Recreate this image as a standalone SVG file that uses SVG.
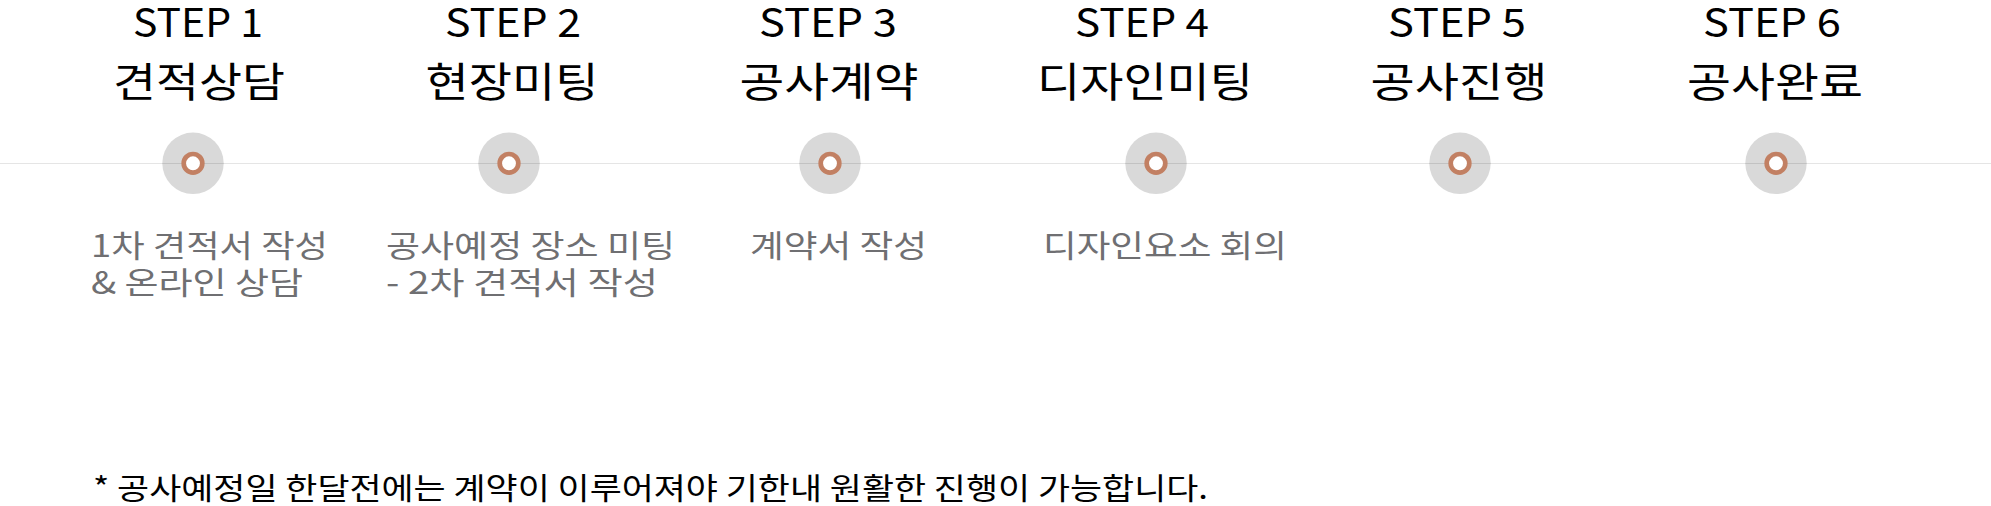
<svg xmlns="http://www.w3.org/2000/svg" width="1991" height="506" viewBox="0 0 1991 506">
<style>
.t{font-family:"Noto Sans CJK KR","Noto Sans",sans-serif;fill:#000;font-size:39px;text-anchor:middle}
.k{font-family:"Noto Sans CJK KR","Noto Sans",sans-serif;fill:#000;font-size:41px;text-anchor:middle}
.d{font-family:"Noto Sans CJK KR","Noto Sans",sans-serif;fill:#6f6f72;font-size:31px}
.f{font-family:"Noto Sans CJK KR","Noto Sans",sans-serif;fill:#000;font-size:30px}
.disk{fill:#d9d9d9}
.ring{fill:#fff;stroke:#c28063;stroke-width:4.7}
</style>
<rect width="1991" height="506" fill="#fff"/>
<g id="disks">
<circle class="disk" cx="193" cy="163.3" r="30.7"/>
<circle class="disk" cx="509" cy="163.3" r="30.7"/>
<circle class="disk" cx="830" cy="163.3" r="30.7"/>
<circle class="disk" cx="1156" cy="163.3" r="30.7"/>
<circle class="disk" cx="1460" cy="163.3" r="30.7"/>
<circle class="disk" cx="1776" cy="163.3" r="30.7"/>
</g>
<g id="connectors">
<line x1="0" y1="163.5" x2="1991" y2="163.5" stroke="#000" stroke-opacity="0.1" stroke-width="1"/>
</g>
<g id="step1">
<text class="t" x="198" y="37" textLength="130" lengthAdjust="spacingAndGlyphs">STEP 1</text>
<text class="k" x="199" y="97" textLength="172" lengthAdjust="spacingAndGlyphs">견적상담</text>
<circle class="ring" cx="193" cy="163.3" r="9.3"/>
<text class="d" x="91" y="257" textLength="237" lengthAdjust="spacingAndGlyphs">1차 견적서 작성</text>
<text class="d" x="91" y="294" textLength="212" lengthAdjust="spacingAndGlyphs">&amp; 온라인 상담</text>
</g>
<g id="step2">
<text class="t" x="513" y="37" textLength="136" lengthAdjust="spacingAndGlyphs">STEP 2</text>
<text class="k" x="512" y="97" textLength="173" lengthAdjust="spacingAndGlyphs">현장미팅</text>
<circle class="ring" cx="509" cy="163.3" r="9.3"/>
<text class="d" x="386" y="257" textLength="289" lengthAdjust="spacingAndGlyphs">공사예정 장소 미팅</text>
<text class="d" x="386" y="294" textLength="272" lengthAdjust="spacingAndGlyphs">- 2차 견적서 작성</text>
</g>
<g id="step3">
<text class="t" x="828" y="37" textLength="138" lengthAdjust="spacingAndGlyphs">STEP 3</text>
<text class="k" x="829" y="97" textLength="179" lengthAdjust="spacingAndGlyphs">공사계약</text>
<circle class="ring" cx="830" cy="163.3" r="9.3"/>
<text class="d" x="750" y="257" textLength="177" lengthAdjust="spacingAndGlyphs">계약서 작성</text>
</g>
<g id="step4">
<text class="t" x="1142" y="37" textLength="134" lengthAdjust="spacingAndGlyphs">STEP 4</text>
<text class="k" x="1145" y="97" textLength="216" lengthAdjust="spacingAndGlyphs">디자인미팅</text>
<circle class="ring" cx="1156" cy="163.3" r="9.3"/>
<text class="d" x="1043" y="257" textLength="244" lengthAdjust="spacingAndGlyphs">디자인요소 회의</text>
</g>
<g id="step5">
<text class="t" x="1457" y="37" textLength="138" lengthAdjust="spacingAndGlyphs">STEP 5</text>
<text class="k" x="1459" y="97" textLength="177" lengthAdjust="spacingAndGlyphs">공사진행</text>
<circle class="ring" cx="1460" cy="163.3" r="9.3"/>
</g>
<g id="step6">
<text class="t" x="1772" y="37" textLength="138" lengthAdjust="spacingAndGlyphs">STEP 6</text>
<text class="k" x="1775" y="97" textLength="176" lengthAdjust="spacingAndGlyphs">공사완료</text>
<circle class="ring" cx="1776" cy="163.3" r="9.3"/>
</g>
<g id="note">
<text class="f" x="93" y="499" textLength="1115" lengthAdjust="spacingAndGlyphs">* 공사예정일 한달전에는 계약이 이루어져야 기한내 원활한 진행이 가능합니다.</text>
</g>
</svg>
